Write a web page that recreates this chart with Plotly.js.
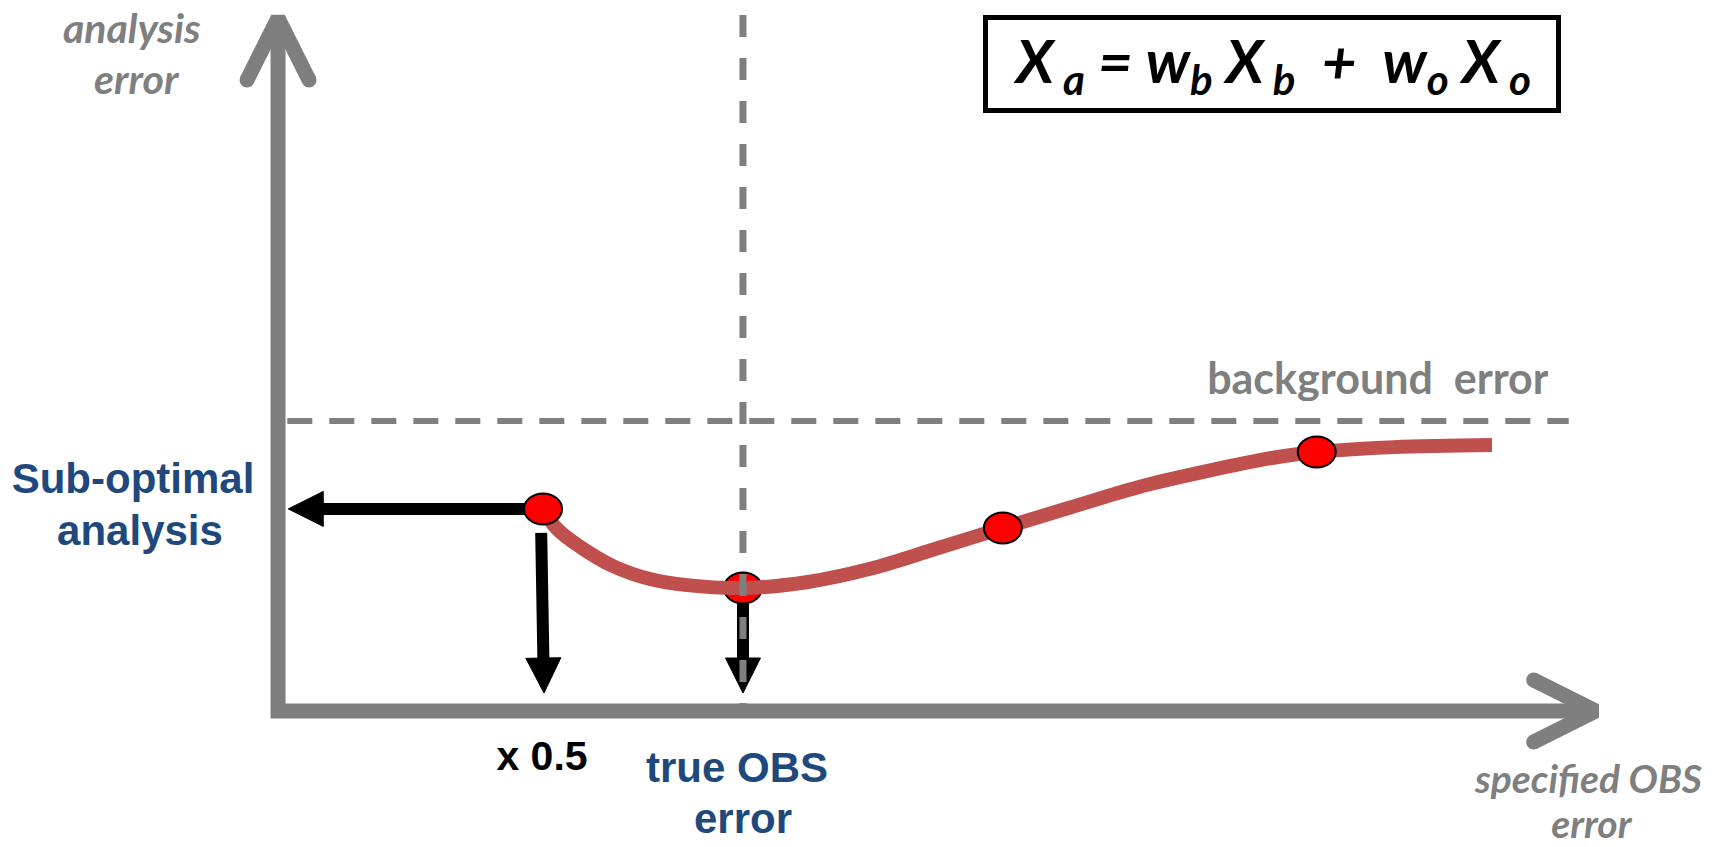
<!DOCTYPE html>
<html>
<head>
<meta charset="utf-8">
<script src="https://cdn.plot.ly/plotly-3.0.1.min.js"></script>
<style>
html, body { margin: 0; padding: 0; background: #fff; }
#plot { width: 1724px; height: 847px; }
</style>
</head>
<body>
<div id="plot"></div>
<script>
// units: x = specified OBS error (1 = true OBS error), y = analysis error (1 = background error)
var curveX = [0.570, 0.600, 0.650, 0.720, 0.800, 0.880, 1.000, 1.140, 1.280, 1.420, 1.559, 1.700, 1.850, 2.000, 2.150, 2.234, 2.400, 2.611];
var curveY = [0.697, 0.628, 0.566, 0.500, 0.455, 0.434, 0.424, 0.445, 0.493, 0.562, 0.631, 0.700, 0.772, 0.828, 0.876, 0.893, 0.910, 0.917];

// red dots on the curve (the second one sits under the curve)
var dotX = [0.570, 1.000, 1.559, 2.234];
var dotY = [0.697, 0.424, 0.631, 0.893];

// reference levels
var trueObsError = 1.0;
var backgroundError = 1.0;
var bgLineEnd = 2.776;
var trueLineTop = 2.40;

// axis arrows
var xAxisEnd = 2.834;
var yAxisEnd = 2.390;

// black arrows (from -> to)
var arrowFromX = [0.570, 0.566, 1.000];
var arrowFromY = [0.697, 0.614, 0.372];
var arrowToX = [0.022, 0.572, 1.000];
var arrowToY = [0.697, 0.062, 0.062];

// text labels
var labelText = ["analysis", "error", "background\u00a0\u00a0error", "specified OBS", "error",
                 "Sub-optimal", "analysis", "x 0.5", "true OBS", "error"];
var labelX = [-0.314, -0.303, 2.366, 2.817, 2.826, -0.312, -0.297, 0.568, 0.987, 1.000];
var labelY = [2.359, 2.183, 1.152, -0.231, -0.386, 0.803, 0.624, -0.155, -0.193, -0.369];
var labelW = [170, 120, 340, 260, 110, 260, 180, 110, 200, 120];
var labelH = [48, 48, 48, 44, 42, 48, 48, 46, 48, 48];
var labelKind = ["axis", "axis", "bg", "axisLow", "axisLow", "blue", "blue", "black", "blue", "blue"];

var formula = "X<sub>\u00a0a</sub>\u00a0=\u00a0w<sub>b</sub>\u00a0X<sub>\u00a0b</sub>\u00a0\u00a0+\u00a0\u00a0w<sub>o</sub>\u00a0X<sub>\u00a0o</sub>";

var W = 1724, H = 847;
var xRange = [-0.598, 3.110];
var yRange = [-0.469, 2.452];
var xPerPx = (xRange[1] - xRange[0]) / W;
var yPerPx = (yRange[1] - yRange[0]) / H;

var grey = "#7f7f7f";
var blue = "#1f497d";

function toPx(x, y) {
  return [(x - xRange[0]) / xPerPx, (yRange[1] - y) / yPerPx];
}
function toData(px, py) {
  return [xRange[0] + px * xPerPx, yRange[1] - py * yPerPx];
}

var traces = [];

// axes with open arrow heads
traces.push({
  x: [0, 0, xAxisEnd], y: [yAxisEnd, 0, 0],
  mode: "lines", line: {color: grey, width: 15}, hoverinfo: "skip"
});
function chevron(tipX, tipY, dirX, dirY) {
  var t = toPx(tipX, tipY);
  var back = 62, side = 31;
  var a = toData(t[0] - dirX * back - dirY * side, t[1] - dirY * back + dirX * side);
  var b = toData(t[0] - dirX * back + dirY * side, t[1] - dirY * back - dirX * side);
  return {
    x: [a[0], tipX, b[0]], y: [a[1], tipY, b[1]],
    mode: "lines+markers", line: {color: grey, width: 15},
    marker: {color: grey, size: [15, 0, 15], opacity: 1, line: {width: 0}}, hoverinfo: "skip"
  };
}
traces.push(chevron(0, yAxisEnd, 0, -1));
traces.push(chevron(xAxisEnd, 0, 1, 0));

// background error dashed line
traces.push({
  x: [0.02, bgLineEnd], y: [backgroundError, backgroundError],
  mode: "lines", line: {color: grey, width: 6, dash: "25px,17px"}, hoverinfo: "skip"
});

// analysis error curve
traces.push({
  x: curveX, y: curveY, mode: "lines",
  line: {color: "#c0504d", width: 14, shape: "spline", smoothing: 1}, hoverinfo: "skip"
});

// black arrows
for (var i = 0; i < arrowFromX.length; i++) {
  var f = toPx(arrowFromX[i], arrowFromY[i]);
  var t = toPx(arrowToX[i], arrowToY[i]);
  var dx = t[0] - f[0], dy = t[1] - f[1];
  var len = Math.sqrt(dx * dx + dy * dy);
  dx /= len; dy /= len;
  var headLen = 35, half = 17.5;
  var base = toData(t[0] - dx * (headLen - 2), t[1] - dy * (headLen - 2));
  var bx = t[0] - dx * headLen, by = t[1] - dy * headLen;
  var w1 = toData(bx - dy * half, by + dx * half);
  var w2 = toData(bx + dy * half, by - dx * half);
  traces.push({
    x: [arrowFromX[i], base[0]], y: [arrowFromY[i], base[1]],
    mode: "lines", line: {color: "#000", width: 12}, hoverinfo: "skip"
  });
  traces.push({
    x: [w1[0], arrowToX[i], w2[0], w1[0]], y: [w1[1], arrowToY[i], w2[1], w1[1]],
    mode: "lines", fill: "toself", fillcolor: "#000", line: {color: "#000", width: 1}, hoverinfo: "skip"
  });
}

// true OBS error dashed line (on top of curve and arrow)
traces.push({
  x: [trueObsError, trueObsError], y: [trueLineTop, 0],
  mode: "lines", line: {color: grey, width: 7, dash: "22px,21px"}, hoverinfo: "skip"
});

var shapes = dotX.map(function (x, k) {
  return {
    type: "circle", xref: "x", yref: "y",
    xsizemode: "pixel", ysizemode: "pixel",
    xanchor: x, yanchor: dotY[k],
    x0: -19, x1: 19, y0: -15.5, y1: 15.5,
    fillcolor: "#ff0000", line: {color: "#000", width: 2},
    layer: k === 1 ? "below" : "above"
  };
});

var fonts = {
  axis: {family: "Lato, 'Open Sans', sans-serif", size: 41, color: grey, weight: "bold", style: "italic"},
  axisLow: {family: "Lato, 'Open Sans', sans-serif", size: 39, color: grey, weight: "bold", style: "italic"},
  bg: {family: "Lato, 'Open Sans', sans-serif", size: 43, color: grey, weight: "bold"},
  blue: {family: "'Liberation Sans', Arial, sans-serif", size: 42, color: blue, weight: "bold"},
  black: {family: "'Liberation Sans', Arial, sans-serif", size: 41, color: "#000", weight: "bold"}
};

var annotations = labelText.map(function (txt, k) {
  var fnt = fonts[labelKind[k]];
  return {
    text: '<span style="font-size:' + fnt.size + 'px">' + txt + '</span>',
    x: labelX[k], y: labelY[k], xref: "x", yref: "y",
    xanchor: "center", yanchor: "middle", showarrow: false,
    width: labelW[k], height: labelH[k],
    font: fnt
  };
});
annotations.push({
  text: formula, x: 2.138, y: 2.231, xref: "x", yref: "y",
  xanchor: "center", yanchor: "middle", showarrow: false,
  width: 568, height: 88, borderpad: 0,
  bordercolor: "#000", borderwidth: 5, bgcolor: "#fff",
  font: {family: "Lato, 'Open Sans', sans-serif", size: 60, color: "#000", weight: "bold", style: "italic"}
});

var layout = {
  width: W, height: H,
  margin: {l: 0, r: 0, t: 0, b: 0},
  paper_bgcolor: "#fff", plot_bgcolor: "#fff",
  showlegend: false,
  xaxis: {range: xRange, visible: false, fixedrange: true},
  yaxis: {range: yRange, visible: false, fixedrange: true},
  shapes: shapes,
  annotations: annotations
};

Plotly.newPlot("plot", traces, layout, {displayModeBar: false, staticPlot: true});
</script>
</body>
</html>
